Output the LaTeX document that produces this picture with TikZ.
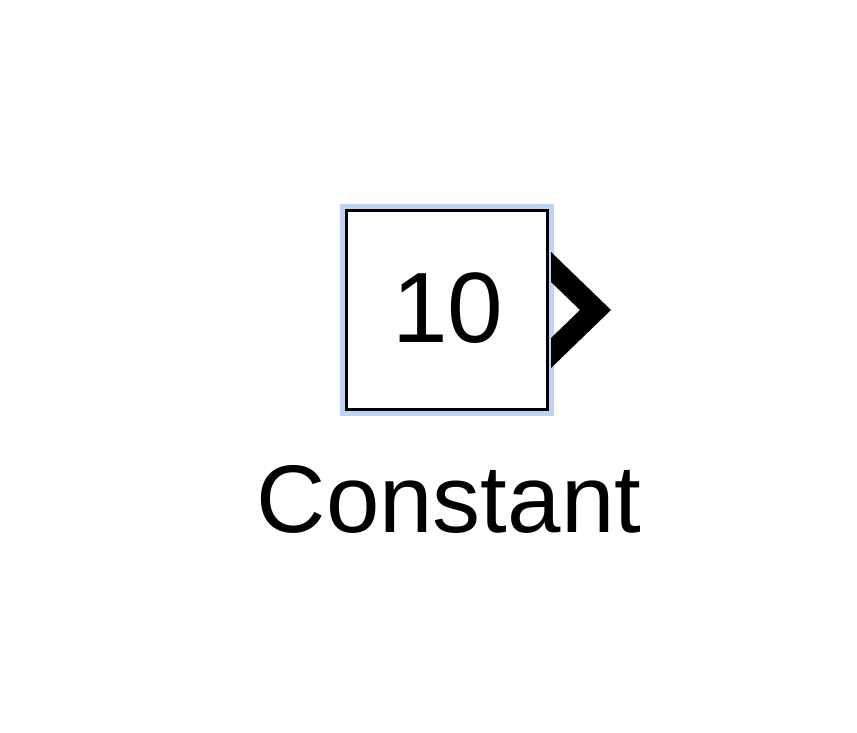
\documentclass[tikz,border=0pt]{standalone}
\usepackage{fontspec}
\setmainfont{Liberation Sans}
\definecolor{halo}{RGB}{190,212,245}
\tikzset{
  blockhalo/.style={draw=halo,line width=6pt},
  blockbox/.style={draw=black,line width=3.5pt,fill=white},
  porttip/.style={fill=black,draw=none},
  bigtext/.style={font=\fontsize{100}{110}\selectfont,inner sep=0pt},
  labeltext/.style={font=\fontsize{96}{106}\selectfont,inner sep=0pt}
}
\begin{document}
\begin{tikzpicture}[x=1pt,y=-1pt]
\useasboundingbox (0,0) rectangle (857,732);
\fill[white] (0,0) rectangle (857,732);
\draw[blockhalo] (343,207) rectangle (551,413);
\draw[blockbox] (346.5,210.5) rectangle (547.5,409.5);
\node[bigtext,anchor=base] (val) at (448,342) {10};
\fill[porttip] (551,252) -- (611,310) -- (551,368) -- (551,338) -- (580,310) -- (551,282) -- cycle;
\node[labeltext,anchor=base] (lbl) at (449,532) {Constant};
\coordinate (port) at (611,310);
\end{tikzpicture}
\end{document}
